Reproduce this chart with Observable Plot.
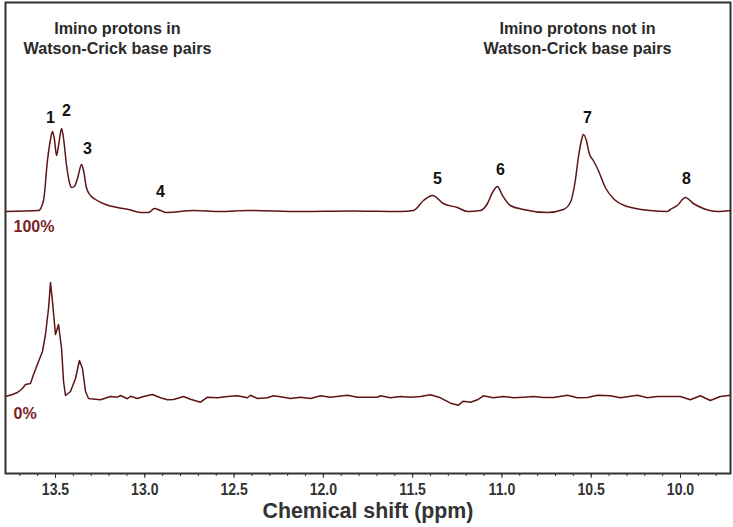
<!DOCTYPE html>
<html>
<head>
<meta charset="utf-8">
<script src="https://cdn.jsdelivr.net/npm/d3@7"></script>
<script src="https://cdn.jsdelivr.net/npm/@observablehq/plot@0.6"></script>
<style>
  html, body { margin: 0; padding: 0; background: #fff; }
</style>
</head>
<body>
<div id="chart"></div>
<script>
// ---- Data ----
// Upper spectrum (100%): chemical shift (ppm) and intensity (arbitrary units)
const upperPpm = [13.780, 13.595, 13.567, 13.545, 13.528, 13.517, 13.506, 13.494, 13.483, 13.466,
  13.455, 13.438, 13.422, 13.410, 13.394, 13.377, 13.354, 13.343, 13.327, 13.304,
  13.276, 13.220, 13.153, 13.091, 13.024, 12.979, 12.946, 12.912, 12.879, 12.727,
  12.576, 12.425, 12.128, 11.848, 11.568, 11.495, 11.439, 11.388, 11.329, 11.249,
  11.193, 11.120, 11.081, 11.053, 11.025, 10.997, 10.953, 10.880, 10.745, 10.656,
  10.617, 10.589, 10.572, 10.555, 10.544, 10.527, 10.511, 10.488, 10.460, 10.421,
  10.376, 10.298, 10.169, 10.074, 10.057, 10.018, 9.973, 9.928, 9.872, 9.794, 9.720];
const upperInt = [0, 1, 11, 51, 72, 80, 72, 56, 66, 83,
  73, 46, 29, 24, 25, 33, 47, 41, 24, 16,
  12, 7, 4, 2, -1, -1, 3, 1, -1, 1,
  0, 1, 0, 0.5, 0, 1, 11, 16, 8, 4,
  0, 1, 8, 19, 25, 16, 6, 2, -1, 2,
  9, 31, 54, 71, 77, 71, 58, 51, 41, 24,
  13, 5, 1, 0, 2, 6, 14, 8, 3, 0, 1];

// Lower spectrum (0%)
const lowerPpm = [13.780, 13.741, 13.713, 13.685, 13.668, 13.640, 13.623, 13.595, 13.573, 13.556,
  13.539, 13.528, 13.517, 13.500, 13.483, 13.466, 13.455, 13.444, 13.416, 13.388,
  13.366, 13.349, 13.332, 13.315, 13.304, 13.248, 13.192, 13.153, 13.136, 13.097,
  13.080, 13.041, 13.007, 12.957, 12.912, 12.873, 12.839, 12.783, 12.744, 12.688,
  12.649, 12.593, 12.537, 12.481, 12.425, 12.408, 12.369, 12.313, 12.279, 12.223,
  12.184, 12.128, 12.072, 12.016, 11.960, 11.865, 11.809, 11.753, 11.697, 11.680,
  11.624, 11.568, 11.512, 11.456, 11.400, 11.344, 11.288, 11.244, 11.216, 11.176,
  11.137, 11.104, 11.048, 10.992, 10.936, 10.880, 10.824, 10.768, 10.712, 10.633,
  10.577, 10.521, 10.465, 10.393, 10.337, 10.241, 10.185, 10.129, 10.057, 10.001,
  9.945, 9.889, 9.833, 9.777, 9.720];
const lowerInt = [1, 3, 5, 9, 13, 14, 23, 36, 46, 63,
  89, 115, 96, 63, 73, 49, 16, 2, 6, 19,
  37, 29, 6, -1, -1.3, -2.3, 1, 0.3, 2, -1.3,
  1.3, -1, 1, 3, -0.3, -2.3, -2, 1, -1.7, -4.7,
  0.3, -0.3, 1, 1.7, -0.3, 2.3, -1, -0.3, 1.7, 0.3,
  -1, 0.3, -1, 1.7, 0.3, 2.3, 0.3, 0.3, 0.3, 1.7,
  -0.3, 1, 0.3, 1, 2.7, -0.3, -5.7, -7.7, -3.7, -4.7,
  -2.3, 1.7, -0.3, 1, -0.3, 0.3, 1, 0, 0, 2.3,
  -0.3, 0, 2.3, 1.7, -0.3, 2.3, -0.3, 1, 1, 1,
  -2.3, 1.7, -3, 1, 2.3];

// Peak labels
const peakNames = ["1", "2", "3", "4", "5", "6", "7", "8"];
const peakPpm = [13.528, 13.438, 13.321, 12.912, 11.361, 11.008, 10.521, 9.967];
const peakLabelHeight = [94, 101, 63, 20, 33, 42, 94, 33];

// Axis ticks
const majorTicks = [13.5, 13.0, 12.5, 12.0, 11.5, 11.0, 10.5, 10.0];
const minorTicks = d3.range(137, 97, -1).map(v => v / 10);

// Texts
const groupTitles = ["Imino protons in\nWatson-Crick base pairs", "Imino protons not in\nWatson-Crick base pairs"];
const groupPpm = [13.153, 10.577];
const traceLabels = ["100%", "0%"];
const xTitle = "Chemical shift (ppm)";

// ---- Build tables ----
const upperOffset = 186;
const upper = upperPpm.map((p, i) => ({ppm: p, y: upperInt[i] + upperOffset}));
const lower = lowerPpm.map((p, i) => ({ppm: p, y: lowerInt[i]}));
const peaks = peakNames.map((n, i) => ({name: n, ppm: peakPpm[i], y: peakLabelHeight[i] + upperOffset}));
const groups = groupTitles.map((t, i) => ({text: t, ppm: groupPpm[i]}));
const traces = [
  {text: traceLabels[0], ppm: 13.735, y: upperOffset - 15},
  {text: traceLabels[1], ppm: 13.735, y: -16}
];

const lineColor = "#5e1414";
const font = "'Liberation Sans', Arial, sans-serif";

const chart = Plot.plot({
  width: 733,
  height: 527,
  marginTop: 2,
  marginLeft: 5,
  marginRight: 3,
  marginBottom: 54,
  style: {fontFamily: font, background: "#fff", color: "#222"},
  x: {domain: [13.78, 9.72]},
  y: {domain: [-76, 395], axis: null},
  marks: [
    Plot.axisX(minorTicks, {tickSize: 3, tickFormat: () => "", label: null, stroke: "#333"}),
    Plot.axisX(majorTicks, {tickSize: 5, tickFormat: d => d.toFixed(1), fontSize: 16, fontWeight: "bold",
      tickPadding: 5, label: null, stroke: "#333", fill: "#333"}),
    Plot.line(upper, {x: "ppm", y: "y", curve: "monotone-x", stroke: lineColor, strokeWidth: 1.5}),
    Plot.line(lower, {x: "ppm", y: "y", curve: "linear", stroke: lineColor, strokeWidth: 1.5}),
    Plot.text(peaks, {x: "ppm", y: "y", text: "name", fontSize: 16, fontWeight: "bold", fill: "#111"}),
    Plot.text(groups, {x: "ppm", frameAnchor: "top", text: "text", dy: 35, lineAnchor: "middle",
      fontSize: 17, fontWeight: "bold", lineHeight: 1.18, fill: "#2a2a2a"}),
    Plot.text(traces, {x: "ppm", y: "y", text: "text", textAnchor: "start", fontSize: 16, fontWeight: "bold", fill: "#7a1f1f"}),
    Plot.text([xTitle], {frameAnchor: "bottom", dy: 44, fontSize: 22, fontWeight: "bold", fill: "#333"}),
    Plot.frame({stroke: "#333", strokeWidth: 2})
  ]
});
document.getElementById("chart").appendChild(chart);

// Condense text horizontally to mimic the reference's narrow typeface
const condense = (el, s) => {
  const t = el.getAttribute("transform");
  if (t) {
    el.setAttribute("transform", t + ` scale(${s},1)`);
  } else {
    const x = +el.getAttribute("x") || 0, y = +el.getAttribute("y") || 0;
    el.setAttribute("x", 0); el.setAttribute("y", 0);
    el.setAttribute("transform", `translate(${x},${y}) scale(${s},1)`);
  }
};
d3.select(chart).selectAll("text").each(function() {
  const txt = this.textContent;
  if (majorTicks.some(v => v.toFixed(1) === txt)) condense(this, 0.88);
  else if (txt === xTitle) condense(this, 0.97);
  else if (txt.startsWith("Imino")) condense(this, 0.95);
});
</script>
</body>
</html>
